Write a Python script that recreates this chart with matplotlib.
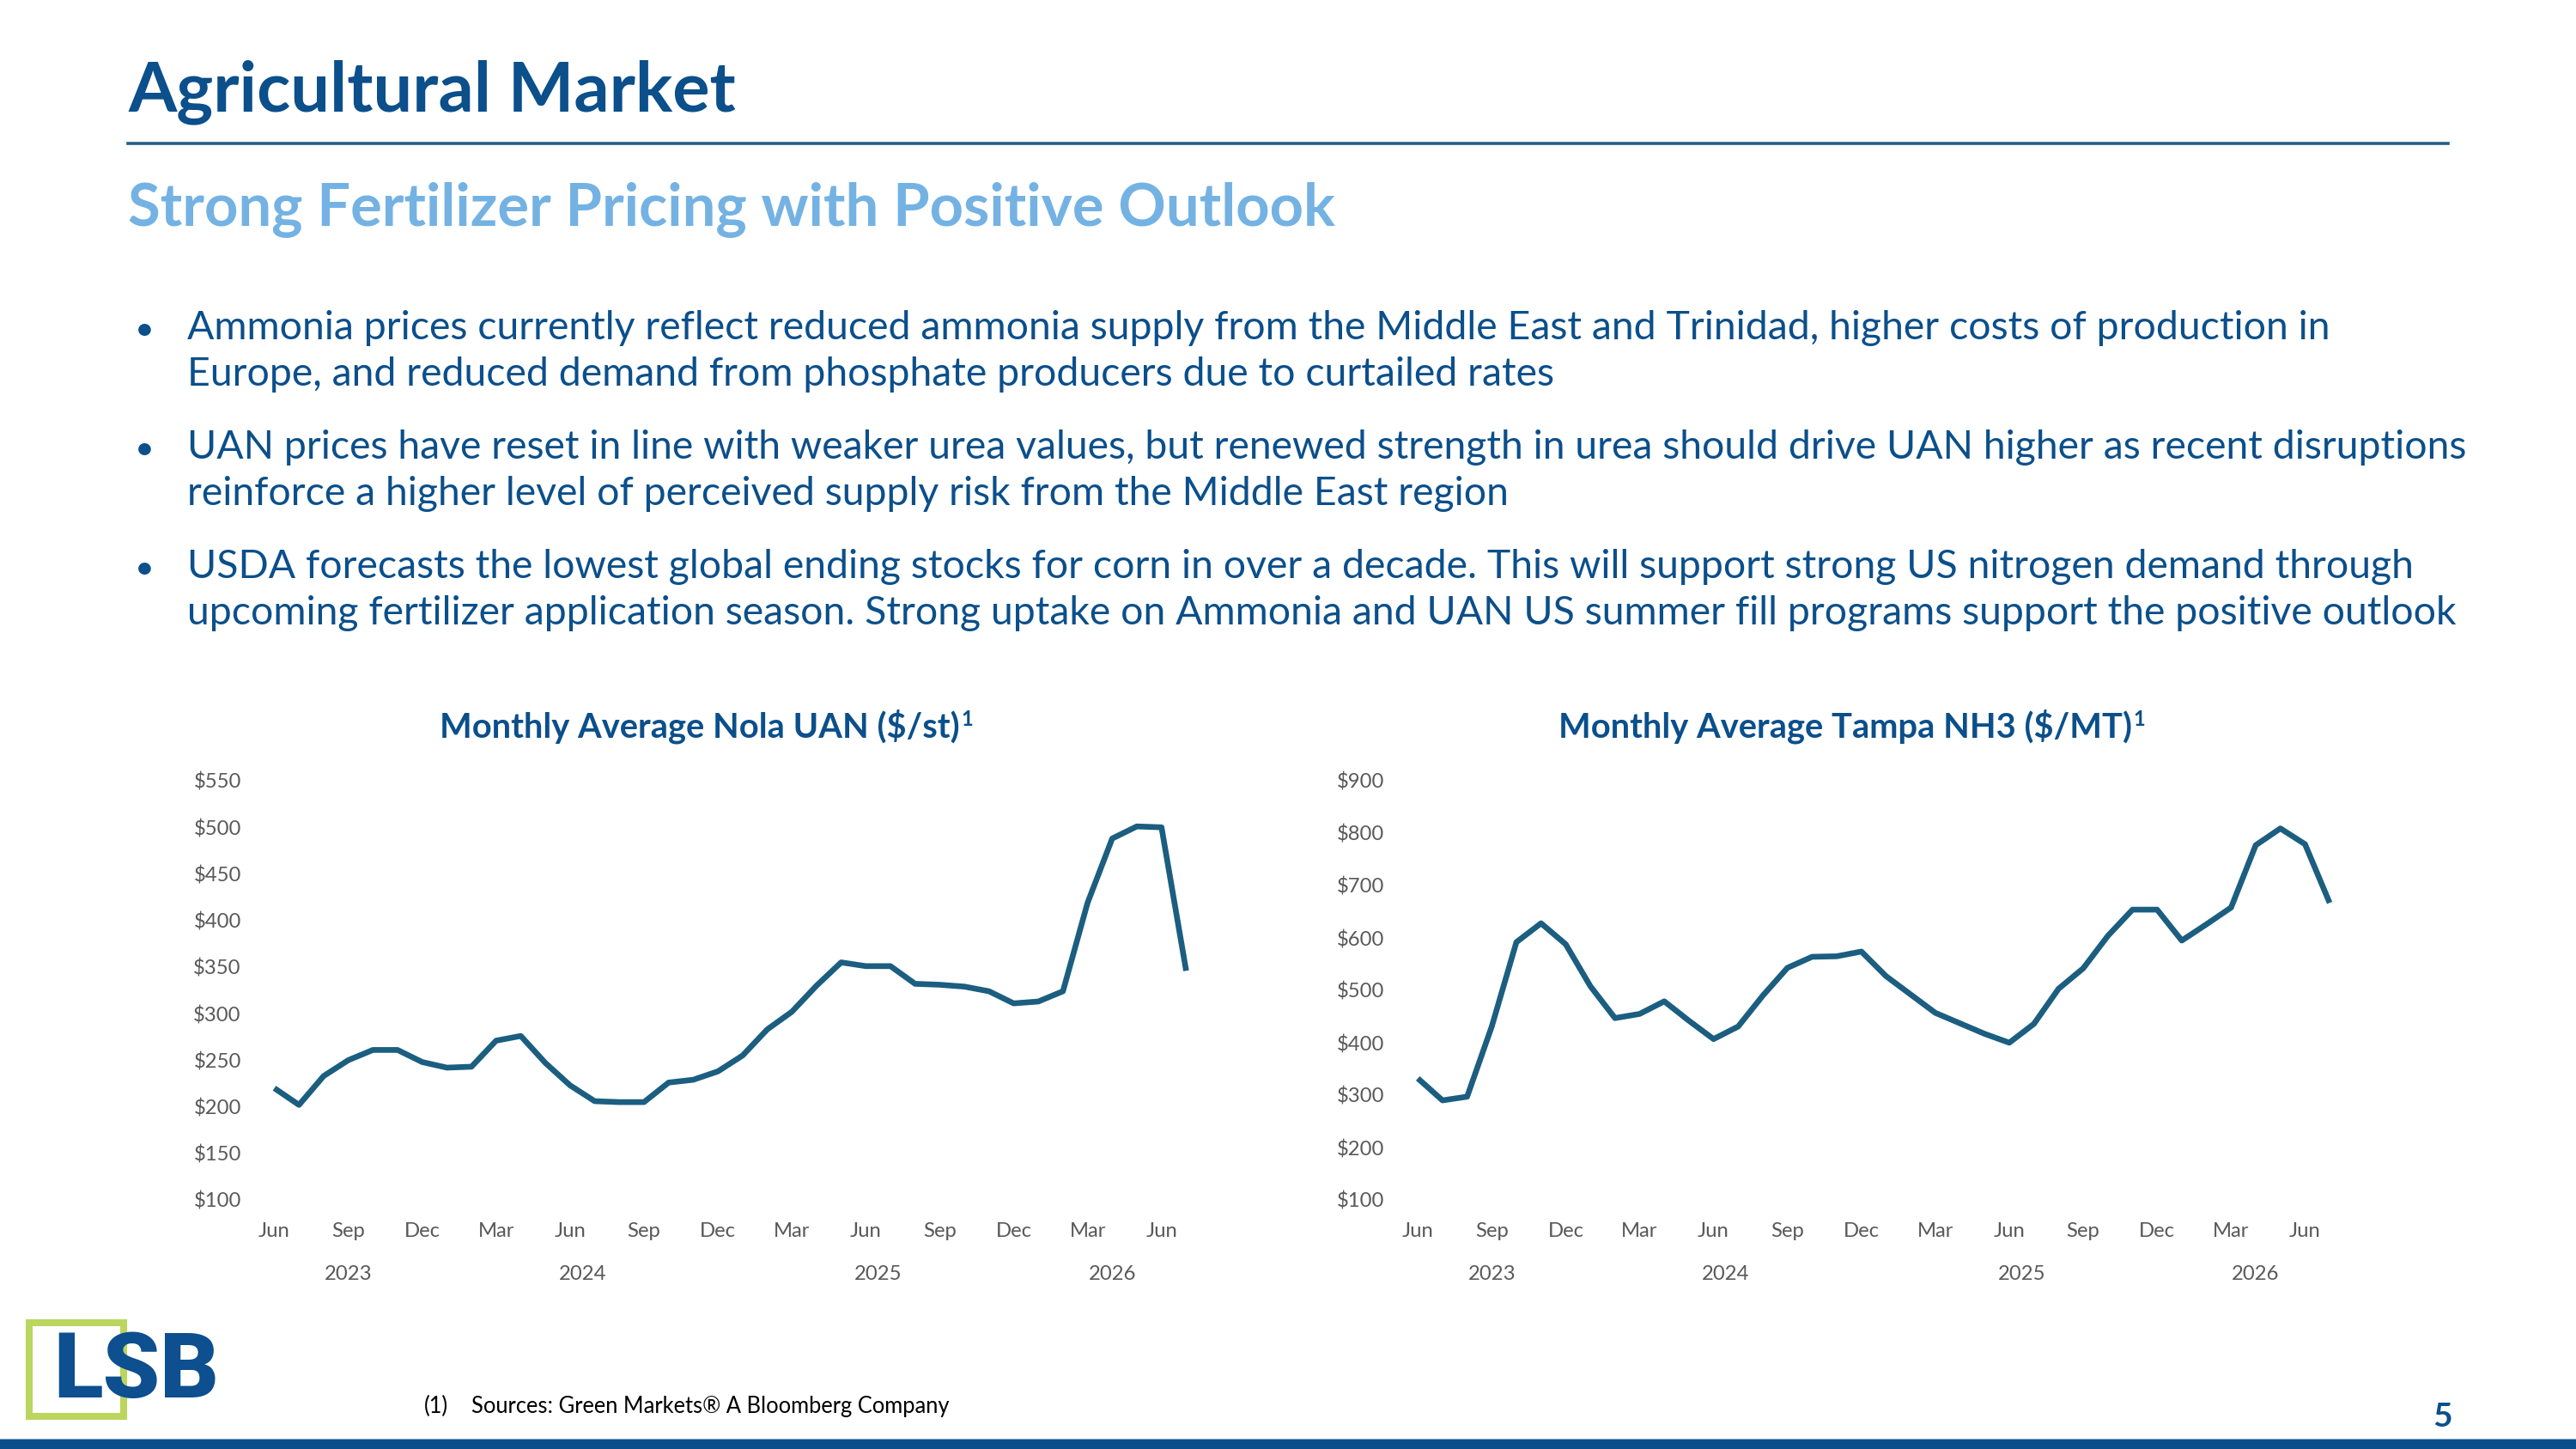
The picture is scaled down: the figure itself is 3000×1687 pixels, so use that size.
import matplotlib
matplotlib.use("Agg")
import matplotlib.pyplot as plt
from matplotlib.patches import Rectangle

# ---------------- data ----------------
month_names = ["Jan", "Feb", "Mar", "Apr", "May", "Jun",
               "Jul", "Aug", "Sep", "Oct", "Nov", "Dec"]
start_year, start_month = 2023, 6     # Jun 2023
n_months = 38                          # Jun 2023 .. Jul 2026

uan = [220, 202, 233, 250, 261, 261, 248, 242, 243, 271, 276, 247,
       223, 206, 205, 205, 226, 229, 238, 255, 283, 302, 330, 355,
       351, 351, 332, 331, 329, 324, 311, 313, 324, 419, 488, 501,
       500, 346]

nh3 = [332, 290, 297, 431, 592, 628, 588, 508, 447, 455, 479, 442,
       407, 431, 490, 543, 564, 565, 574, 527, 492, 457, 437, 417,
       400, 436, 503, 542, 604, 654, 654, 595, 626, 658, 777, 809,
       779, 667]

uan_yticks = [100, 150, 200, 250, 300, 350, 400, 450, 500, 550]
nh3_yticks = [100, 200, 300, 400, 500, 600, 700, 800, 900]

title_main = "Agricultural Market"
subtitle = "Strong Fertilizer Pricing with Positive Outlook"
bullets = [
    ["Ammonia prices currently reflect reduced ammonia supply from the Middle East and Trinidad, higher costs of production in",
     "Europe, and reduced demand from phosphate producers due to curtailed rates"],
    ["UAN prices have reset in line with weaker urea values, but renewed strength in urea should drive UAN higher as recent disruptions",
     "reinforce a higher level of perceived supply risk from the Middle East region"],
    ["USDA forecasts the lowest global ending stocks for corn in over a decade. This will support strong US nitrogen demand through",
     "upcoming fertilizer application season. Strong uptake on Ammonia and UAN US summer fill programs support the positive outlook"],
]
chart_titles = ["Monthly Average Nola UAN ($/st)", "Monthly Average Tampa NH3 ($/MT)"]
footnote = "Sources: Green Markets® A Bloomberg Company"

# derived category labels
periods = []
for i in range(n_months):
    m = (start_month - 1 + i) % 12
    y = start_year + (start_month - 1 + i) // 12
    periods.append((y, month_names[m]))
xs = list(range(n_months))
tick_pos = [i for i in xs if i % 3 == 0]
tick_lab = [periods[i][1] for i in tick_pos]
years = sorted(set(p[0] for p in periods))
year_centers = [sum(i for i in xs if periods[i][0] == yr) / sum(1 for i in xs if periods[i][0] == yr) for yr in years]

# ---------------- style ----------------
W, H, DPI = 3000, 1687, 200
DARK = "#0b4f8b"
LIGHT = "#74b2e3"
LINE = "#1b5e80"
GREY = "#595959"
FONT = "Lato"
plt.rcParams["font.family"] = [FONT, "DejaVu Sans"]

fig = plt.figure(figsize=(W / DPI, H / DPI), dpi=DPI)
fig.patch.set_facecolor("white")
renderer = fig.canvas.get_renderer()


def fx(x):
    return x / W


def fy(y):
    return 1 - y / H


def fit(t, target_w):
    bb = t.get_window_extent(renderer)
    t.set_fontsize(t.get_fontsize() * target_w / bb.width)
    return t.get_fontsize()


# header
t = fig.text(fx(149), fy(129), title_main, color=DARK, fontsize=30, fontweight="bold", va="baseline")
fit(t, 708)
fig.add_artist(plt.Line2D([fx(149), fx(2851)], [fy(167), fy(167)], color="#245f88", lw=1.3))
t = fig.text(fx(149), fy(263), subtitle, color=LIGHT, fontsize=24, fontweight="bold", va="baseline")
fit(t, 1408)

# bullets
t0 = fig.text(fx(218), fy(395), bullets[0][0], color=DARK, fontsize=16, va="baseline")
bfs = fit(t0, 2502)
baselines = [[395, 449], [534, 588], [673, 727]]
for bi, lines in enumerate(bullets):
    fig.text(fx(168), fy(baselines[bi][0]), "•", color=DARK, fontsize=bfs * 0.85, va="baseline", ha="center")
    for li, line in enumerate(lines):
        if bi == 0 and li == 0:
            continue
        fig.text(fx(218), fy(baselines[bi][li]), line, color=DARK, fontsize=bfs, va="baseline")

# charts
axes_px = [(290.8, 1410.1), (1622.5, 2741.8)]
top_px, bot_px = 909, 1397
series = [uan, nh3]
yticks = [uan_yticks, nh3_yticks]
title_centers = [815, 2149]
title_widths = [606, 668]

for k in range(2):
    l, r = axes_px[k]
    ax = fig.add_axes([fx(l), fy(bot_px), (r - l) / W, (bot_px - top_px) / H])
    ax.plot(xs, series[k], color=LINE, lw=2.4, solid_joinstyle="round", solid_capstyle="butt")
    ax.set_xlim(-1, 38)
    ax.set_ylim(yticks[k][0], yticks[k][-1])
    ax.set_yticks(yticks[k], [f"${v}" for v in yticks[k]])
    ax.set_xticks(tick_pos, tick_lab)
    for s in ax.spines.values():
        s.set_visible(False)
    ax.tick_params(axis="both", length=0, labelsize=8.6, labelcolor=GREY)
    ax.tick_params(axis="y", pad=3.6)
    ax.tick_params(axis="x", pad=9.2)
    ax.set_facecolor("none")
    for yc, yr in zip(year_centers, years):
        ax.text(yc, (bot_px - 1490) / (bot_px - top_px), str(yr), transform=ax.get_xaxis_transform(),
                ha="center", va="baseline", fontsize=8.6, color=GREY)
    tt = fig.text(fx(title_centers[k]), fy(858), chart_titles[k], ha="center", va="baseline",
                  color=DARK, fontsize=12.5, fontweight="bold")
    fit(tt, title_widths[k])
    ax.annotate("1", xy=(1.0, 0.97), xycoords=tt, xytext=(0.6, 0), textcoords="offset points",
                ha="left", va="top", fontsize=tt.get_fontsize() * 0.6, color=DARK, fontweight="bold")

# logo
fig.add_artist(Rectangle((fx(34), fy(1649)), 110 / W, 109 / H, fill=False,
                         edgecolor="#bad65e", lw=2.9, transform=fig.transFigure))
lt = fig.text(fx(62), fy(1627), "LSB", color="#0d4f8f", fontsize=30, fontweight="black",
              family=["Roboto", "Liberation Sans", "DejaVu Sans"], va="baseline", zorder=5)
fit(lt, 193)

# footnote
ft = fig.text(fx(549), fy(1645), footnote, fontsize=7.3, color="black", va="baseline")
ffs = fit(ft, 557)
fig.text(fx(494), fy(1645), "(1)", fontsize=ffs, color="black", va="baseline")

# page number
fig.text(fx(2845), fy(1661), "5", ha="center", va="baseline", color=DARK, fontsize=14, fontweight="bold")

# bottom bar
fig.add_artist(Rectangle((0, 0), 1, 11 / H, color="#0a4f8c", transform=fig.transFigure, lw=0))
fig.add_artist(Rectangle((0, 11 / H), 1, 1.5 / H, color="#7fa9cc", transform=fig.transFigure, lw=0))

fig.savefig("out.png", dpi=DPI, facecolor="white")
